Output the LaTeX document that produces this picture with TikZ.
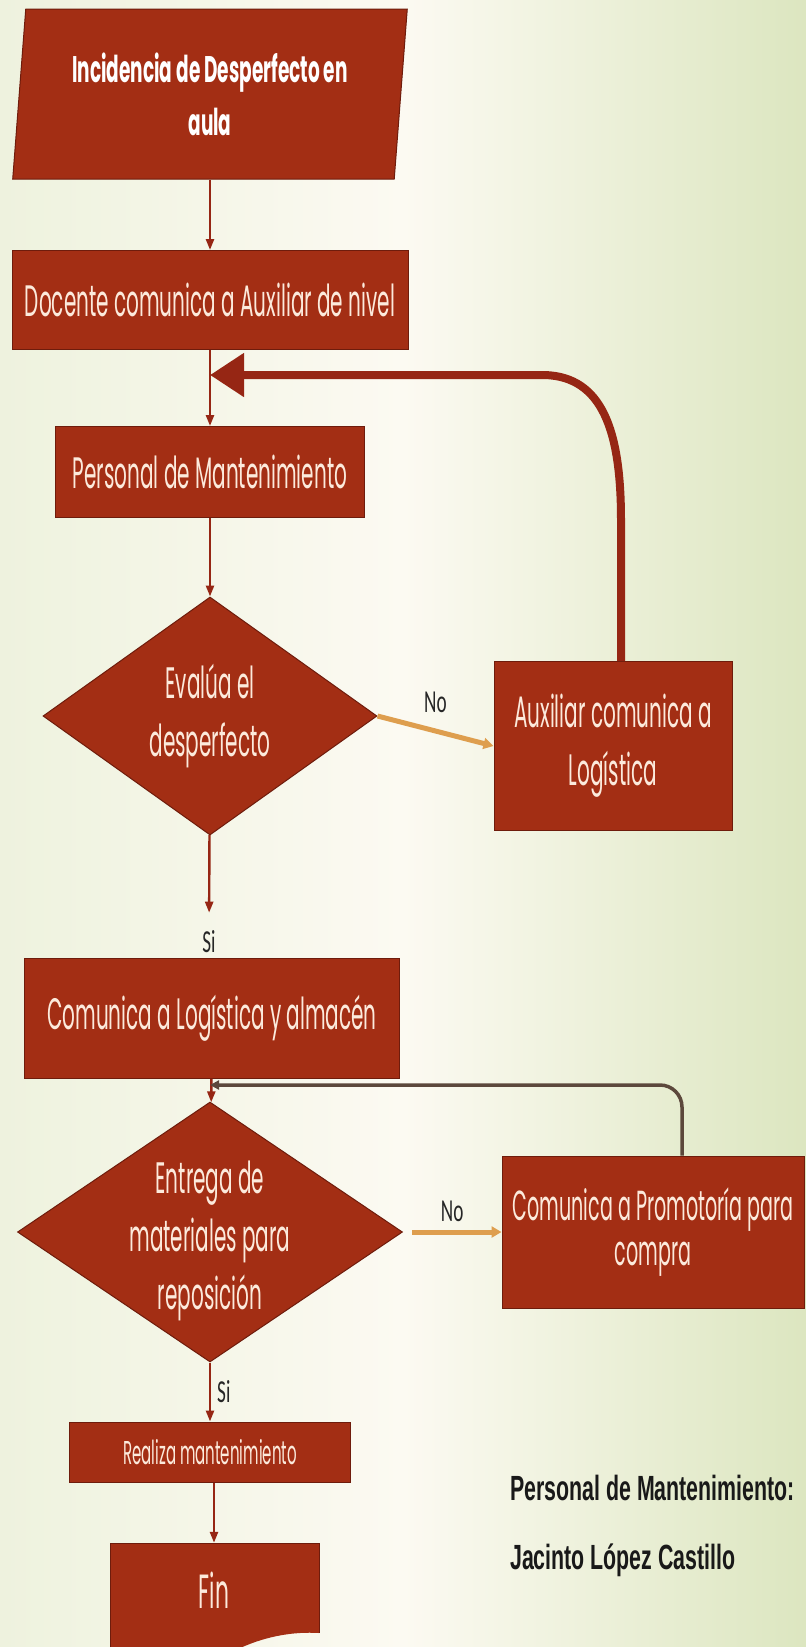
\documentclass[tikz,border=0pt]{standalone}
\usepackage{fontspec}
\usepackage{tikz}
\usetikzlibrary{shapes.geometric,arrows.meta}
\newfontfamily\boxfont[FakeStretch=0.455]{Poppins}
\newfontfamily\titlefont[FakeStretch=0.5]{Poppins}
\newfontfamily\labelfont[FakeStretch=0.6]{Carlito}
\newfontfamily\namefont[FakeStretch=0.61]{Liberation Sans}
\definecolor{boxred}{RGB}{163,46,20}
\definecolor{boxedge}{RGB}{110,28,12}
\definecolor{boxtext}{RGB}{252,234,220}
\definecolor{linered}{RGB}{150,38,20}
\definecolor{noorange}{RGB}{222,158,78}
\definecolor{backbrown}{RGB}{92,72,60}
\definecolor{bgleft}{RGB}{238,242,222}
\definecolor{bgmid}{RGB}{252,250,242}
\definecolor{bgright}{RGB}{220,230,192}
\tikzset{flow box/.style={
    rectangle,
    fill=boxred,
    draw=boxedge,
    line width=1pt,
    minimum height=#1,
    inner sep=0pt,
    align=center,
    text=boxtext,
    font=\boxfont\fontsize{44}{58}\selectfont
  },
  flow box/.default=95pt,
  choice box/.style={flow box, diamond, aspect=#1, inner sep=-40pt},
  choice box/.default=1.4,
  flow arrow/.style={draw=linered, line width=2.4pt, -{Triangle[length=11pt,width=8pt]}},
  no arrow/.style={draw=noorange, line width=5pt, -{Triangle[length=10pt,width=11pt]}},
  return arrow/.style={draw=linered, line width=8pt, -{Triangle[length=34pt,width=42pt]}},
  back arrow/.style={draw=backbrown, line width=3.5pt, -{Triangle[length=9pt,width=9pt]}},
  choice label/.style={inner sep=0pt, text=black!85, font=\labelfont\fontsize{32}{34}\selectfont},
  name text/.style={inner sep=0pt, anchor=west, text=black!90, font=\namefont\bfseries\fontsize{35}{40}\selectfont}
}
\begin{document}
\begin{tikzpicture}[x=1pt,y=-1pt]
\useasboundingbox (0,0) rectangle (806,1647);
\shade[left color=bgleft, right color=bgright, middle color=bgmid] (0,0) rectangle (806,1647);

\node[flow box, trapezium, trapezium left angle=83.3, trapezium right angle=96.7, trapezium stretches=true,
  minimum width=395pt, minimum height=170pt, text=white,
  font=\titlefont\bfseries\fontsize{37}{53}\selectfont] (incid) at (210,94) {Incidencia de Desperfecto en\\aula};
\node[flow box, minimum width=396pt, minimum height=99pt] (docente) at (210,300) {Docente comunica a Auxiliar de nivel};
\node[flow box, minimum width=309pt, minimum height=91pt] (personal) at (210,472) {Personal de Mantenimiento};
\node[choice box, minimum width=334pt, minimum height=238pt] (evalua) at (210,716) {Evalúa el\\desperfecto};
\node[flow box, minimum width=238pt, minimum height=169pt] (auxlog) at (613,746) {Auxiliar comunica a\\Logística};
\node[flow box, minimum width=375pt, minimum height=120pt] (comlog) at (212,1018) {Comunica a Logística y almacén};
\node[choice box=1.48, minimum width=385pt, minimum height=260pt] (entrega) at (210,1232) {\\[-8pt]Entrega de\\materiales para\\reposición};
\node[flow box, minimum width=302pt, minimum height=152pt,
  font=\boxfont\fontsize{42}{45}\selectfont] (promo) at (653,1232) {Comunica a Promotoría para\\compra};
\node[flow box, minimum width=281pt, minimum height=60pt,
  font=\boxfont\fontsize{33}{36}\selectfont] (realiza) at (210,1452) {Realiza mantenimiento};
\fill[boxred] (110,1543) -- (319,1543) -- (319,1633) .. controls (285,1631) and (255,1640) .. (232,1652) -- (110,1652) -- cycle;
\draw[boxedge, line width=1pt] (110,1652) -- (110,1543) -- (319,1543) -- (319,1633);
\node[inner sep=0pt, minimum width=209pt, minimum height=94pt, text=boxtext,
  font=\boxfont\fontsize{48}{50}\selectfont] (fin) at (214,1590) {Fin};

\draw[flow arrow] (docente.north |- incid.south) -- (docente.north);
\draw[flow arrow] (docente) -- (personal);
\draw[flow arrow] (personal) -- (evalua);
\node[choice label] (si1) at (209,942) {Si};
\draw[flow arrow, shorten >=18pt] (evalua) -- (si1);
\draw[no arrow] (evalua.east) -- (auxlog.west) node[choice label, midway, above=16pt] (no1) {No};
\coordinate (join1) at (210,375);
\draw[return arrow] ([xshift=8pt]auxlog.north) -- (621,520) .. controls (621,430) and (602,377) .. (545,375) -- (join1);

\draw[flow arrow] (comlog) -- (entrega);
\coordinate (join2) at (210,1085);
\draw[back arrow, rounded corners=22pt] ([xshift=29pt]promo.north) |- (join2);
\draw[no arrow, shorten <=9pt] (entrega.east) -- (promo.west) node[choice label, midway, above=8pt] (no2) {No};
\draw[flow arrow] (entrega) -- (realiza) node[choice label, midway, right=6pt] (si2) {Si};
\draw[flow arrow] (fin.north |- realiza.south) -- (fin.north);

\node[name text] (mantnom) at (510,1488) {Personal de Mantenimiento:};
\node[name text] (jacinto) at (510,1560) {Jacinto López Castillo};
\end{tikzpicture}
\end{document}
